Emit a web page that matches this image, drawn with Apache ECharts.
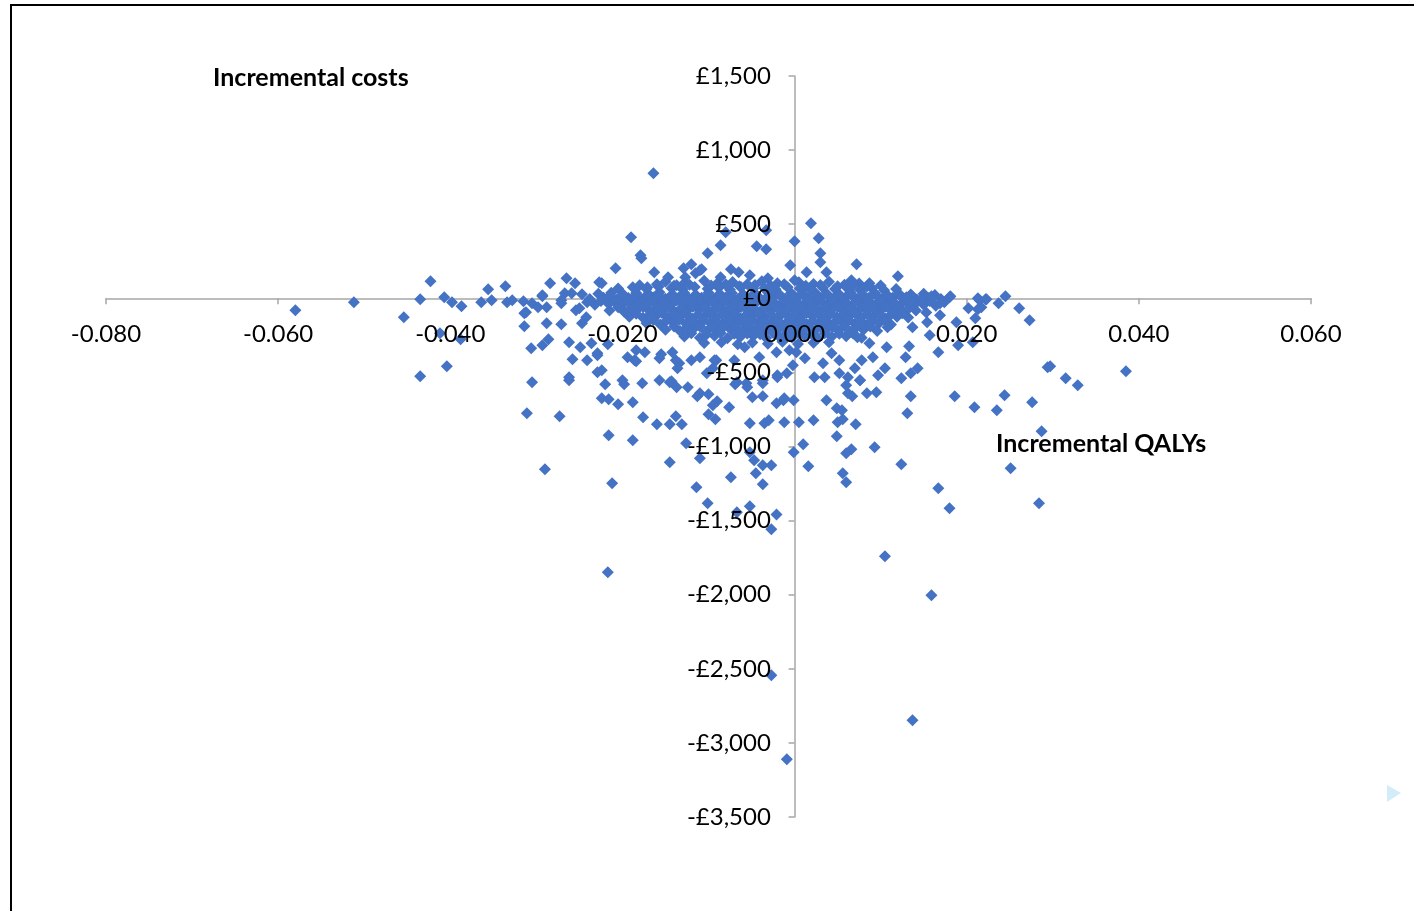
<!DOCTYPE html>
<html>
<head>
<meta charset="utf-8">
<title>Incremental costs vs incremental QALYs</title>
<script src="https://cdn.jsdelivr.net/npm/echarts@6/dist/echarts.min.js"></script>
<style>
  html, body { margin: 0; padding: 0; background: #ffffff; }
  #chart { width: 1414px; height: 911px; }
</style>
</head>
<body>
<div id="chart"></div>
<script>
// Axis ticks
const xTicks = [-0.08, -0.06, -0.04, -0.02, 0, 0.02, 0.04, 0.06];
const xStep = 0.02;
const yTicks = [-3500, -3000, -2500, -2000, -1500, -1000, -500, 0, 500, 1000, 1500];
const yStep = 500;

// Simulations above the x axis (incremental QALY, incremental cost in £)
const upperPoints = [
  [-0.0164,843],[-0.0190,412],[-0.0179,290],[-0.0178,270],[0.0019,506],[0.0028,405],[0.0000,385],
  [0.0030,304],[0.0030,243],[-0.0033,459],[-0.0044,351],[-0.0033,331],[-0.0086,358],[-0.0080,445],
  [-0.0101,304],[-0.0208,202],[-0.0163,175],[-0.0129,202],[-0.0120,229],[-0.0108,196],[-0.0147,142],
  [-0.0127,142],[-0.0115,169],[-0.0074,196],[-0.0086,142],[-0.0065,175],[-0.0052,155],[-0.0031,135],
  [-0.0005,223],[0.0000,121],[0.0014,175],[-0.0284,101],[-0.0265,135],[-0.0255,101],[-0.0224,101],
  [-0.0259,34],[-0.0247,27],[-0.0293,20],[-0.0171,74],[-0.0137,88],[0.0037,175],[0.0072,229],
  [0.0120,148],[0.0066,121],[0.0087,101],[-0.0227,108],[-0.0110,189],[-0.0267,34]
];

// Simulations to the right of the main cloud
const rightPoints = [
  [0.0245,13],[0.0261,-67],[0.0273,-148],[0.0237,-34],[0.0222,-7],[0.0213,0],[0.0202,-67],
  [0.0213,-74],[0.0217,-61],[0.0210,-135],[0.0181,13],[0.0174,-27],[0.0188,-162],[0.0190,-317],
  [0.0207,-297],[0.0167,-364],[0.0157,-250],[0.0133,-324],[0.0129,-398],[0.0143,-472],[0.0135,-506],
  [0.0124,-540],[0.0105,-472],[0.0294,-466],[0.0137,-196],[0.0154,-162],[0.0169,-115],
  [0.0135,-661],[0.0131,-776],[0.0186,-661],[0.0209,-735],[0.0235,-756],[0.0244,-655],[0.0276,-702],
  [0.0287,-897],[0.0251,-1147],[0.0284,-1383],[0.0385,-493],[0.0329,-587],[0.0315,-540],[0.0297,-459],
  [0.0130,7],[0.0136,-27],[0.0149,-13],[0.0159,13],[0.0169,-34],[0.0180,7],[0.0215,-13],[0.0223,-7]
];

// Simulations well below the x axis
const lowerPoints = [
  [-0.0001,-688],[-0.0013,-688],[-0.0012,-837],[0.0005,-837],[0.0022,-823],[0.0037,-688],[0.0049,-742],
  [0.0055,-756],[0.0050,-837],[0.0056,-816],[0.0071,-850],[0.0062,-641],[0.0067,-661],[0.0084,-641],
  [0.0095,-634],[0.0060,-587],[0.0076,-553],
  [0.0049,-931],[0.0010,-985],[-0.0001,-1039],[0.0016,-1134],[0.0060,-1046],[0.0066,-1019],[0.0056,-1181],
  [0.0060,-1242],[0.0093,-1005],[0.0124,-1120],[0.0167,-1282],[0.0180,-1417],[0.0105,-1741],[0.0159,-2004],
  [0.0137,-2848],[-0.0009,-3111],[-0.0027,-2544],[-0.0217,-1849],
  [-0.0305,-567],[-0.0262,-553],[-0.0220,-580],[-0.0198,-580],[-0.0177,-574],[-0.0145,-567],[-0.0137,-601],
  [-0.0224,-675],[-0.0216,-682],[-0.0205,-715],[-0.0188,-702],[-0.0113,-661],[-0.0100,-648],[-0.0090,-695],
  [-0.0095,-722],[-0.0076,-735],[-0.0069,-580],[-0.0055,-601],[-0.0037,-574],[-0.0049,-668],[-0.0037,-661],
  [-0.0021,-709],
  [-0.0311,-776],[-0.0273,-796],[-0.0176,-803],[-0.0160,-850],[-0.0145,-850],[-0.0138,-796],[-0.0131,-850],
  [-0.0100,-783],[-0.0092,-816],[-0.0052,-843],[-0.0035,-843],[-0.0030,-823],[-0.0216,-924],[-0.0188,-958],
  [-0.0126,-978],[-0.0110,-1080],[-0.0145,-1107],[-0.0052,-1039],[-0.0047,-1093],[-0.0037,-1127],
  [-0.0027,-1127],[-0.0045,-1181],[-0.0037,-1255],[-0.0074,-1208],[-0.0114,-1275],[-0.0101,-1383],
  [-0.0067,-1444],[-0.0052,-1404],[-0.0021,-1458],[-0.0027,-1559],[-0.0290,-1154],[-0.0212,-1248]
];

// Simulations on the left wing
const leftPoints = [
  [-0.0580,-81],[-0.0512,-27],[-0.0454,-128],[-0.0435,-7],[-0.0423,115],[-0.0407,7],[-0.0398,-27],
  [-0.0387,-54],[-0.0412,-236],[-0.0388,-277],[-0.0435,-526],[-0.0404,-459],[-0.0364,-27],[-0.0356,61],
  [-0.0352,-13],[-0.0336,81],[-0.0334,-27],[-0.0328,-13],[-0.0315,-20],[-0.0312,-94],[-0.0314,-189],
  [-0.0306,-337],[-0.0293,-317],[-0.0288,-169],[-0.0305,-34],[-0.0293,13],
  [-0.0286,-277],[-0.0271,-175],[-0.0262,-297],[-0.0249,-331],[-0.0258,-412],[-0.0241,-418],[-0.0262,-533],
  [-0.0229,-499],[-0.0236,-304],[-0.0229,-385],[-0.0217,-310],[-0.0194,-398],[-0.0184,-351],[-0.0184,-425],
  [-0.0155,-378],[-0.0138,-418],[-0.0136,-472],[-0.0143,-560],[-0.0120,-418],[-0.0110,-398],[-0.0093,-418],
  [-0.0095,-472],[-0.0067,-567],[-0.0037,-553],[-0.0020,-520],[-0.0009,-506],[-0.0012,-675],
  [-0.0314,-101],[-0.0298,-61],[-0.0288,-61],[-0.0271,-13],[-0.0254,-81],[-0.0247,-169],[-0.0242,-128],
  [-0.0250,-67],[-0.0241,-27],[-0.0271,-34]
];

// Scattered simulations just under the dense band
const midPoints = [
  [0.0087,-304],[0.0073,-263],[0.0108,-196],[0.0107,-331],[0.0091,-398],[0.0078,-418],[0.0070,-472],
  [0.0062,-533],[0.0052,-418],[0.0043,-371],[0.0033,-439],[0.0023,-533],[0.0035,-533],[0.0012,-405],
  [0.0002,-364],[0.0052,-506],[0.0076,-553],[0.0097,-520],
  [-0.0229,-371],[-0.0224,-486],[-0.0200,-553],[-0.0186,-418],[-0.0174,-364],[-0.0157,-405],[-0.0142,-364],
  [-0.0134,-439],[-0.0157,-553],[-0.0124,-601],[-0.0102,-506],[-0.0091,-418],[-0.0070,-418],[-0.0058,-331],
  [-0.0041,-398],[-0.0021,-364],[-0.0006,-351],[-0.0002,-452],[-0.0020,-533],[-0.0056,-574],[-0.0110,-641]
];

// Dense band of simulations around the origin
const corePoints = [
  [-0.0150,112],[-0.0128,104],[-0.0105,118],[-0.0090,100],[-0.0072,110],[-0.0055,95],[-0.0038,115],
  [-0.0020,102],[0.0005,108],[0.0022,96],[0.0040,112],[0.0058,92],[0.0075,100],
  [-0.0205,66],[-0.0188,74],[-0.0172,62],[-0.0158,78],[-0.0143,68],[-0.0130,60],[-0.0116,76],[-0.0101,64],
  [-0.0088,72],[-0.0075,58],[-0.0062,75],[-0.0048,66],[-0.0035,70],[-0.0022,61],[-0.0008,74],[0.0006,66],
  [0.0019,58],[0.0033,72],[0.0047,63],[0.0061,70],[0.0076,57],[0.0090,66],[0.0104,54],[0.0118,62],
  [-0.0228,30],[-0.0213,38],[-0.0199,26],[-0.0184,36],[-0.0170,30],[-0.0157,40],[-0.0142,28],[-0.0128,35],
  [-0.0115,24],[-0.0100,38],[-0.0087,30],[-0.0073,36],[-0.0060,26],[-0.0046,34],[-0.0031,40],[-0.0018,28],
  [-0.0004,36],[0.0010,30],[0.0024,38],[0.0038,26],[0.0051,33],[0.0065,40],[0.0079,28],[0.0093,35],
  [0.0107,24],[0.0121,32],[0.0135,26],[0.0150,30],[0.0163,22],
  [-0.0238,-4],[-0.0222,4],[-0.0207,-8],[-0.0193,2],[-0.0178,-6],[-0.0164,6],[-0.0150,-3],[-0.0135,4],
  [-0.0122,-7],[-0.0108,3],[-0.0094,-5],[-0.0080,6],[-0.0066,-4],[-0.0052,2],[-0.0039,-6],[-0.0025,5],
  [-0.0011,-3],[0.0003,4],[0.0017,-6],[0.0031,3],[0.0045,-5],[0.0059,5],[0.0072,-4],[0.0086,2],
  [0.0100,-7],[0.0114,4],[0.0128,-3],[0.0142,-8],[0.0156,2],[0.0170,-5],
  [-0.0232,-44],[-0.0216,-36],[-0.0201,-48],[-0.0187,-38],[-0.0172,-45],[-0.0158,-34],[-0.0144,-46],
  [-0.0129,-40],[-0.0116,-50],[-0.0102,-36],[-0.0088,-44],[-0.0074,-38],[-0.0060,-48],[-0.0046,-35],
  [-0.0032,-42],[-0.0018,-50],[-0.0004,-38],[0.0010,-46],[0.0024,-36],[0.0038,-44],[0.0052,-40],
  [0.0066,-50],[0.0080,-37],[0.0094,-45],[0.0108,-40],[0.0122,-48],[0.0136,-36],[0.0150,-44],[0.0164,-50],
  [-0.0215,-82],[-0.0198,-90],[-0.0183,-78],[-0.0168,-88],[-0.0153,-80],[-0.0139,-92],[-0.0125,-84],
  [-0.0111,-76],[-0.0097,-90],[-0.0083,-82],[-0.0069,-88],[-0.0055,-78],[-0.0041,-92],[-0.0027,-84],
  [-0.0013,-80],[0.0001,-90],[0.0015,-82],[0.0029,-88],[0.0043,-78],[0.0057,-86],[0.0071,-92],[0.0085,-80],
  [0.0099,-88],[0.0113,-84],[0.0127,-94],[0.0141,-82],[0.0153,-96],
  [-0.0192,-124],[-0.0176,-132],[-0.0161,-120],[-0.0147,-130],[-0.0133,-126],[-0.0119,-136],[-0.0105,-122],
  [-0.0091,-130],[-0.0077,-126],[-0.0063,-134],[-0.0049,-120],[-0.0035,-128],[-0.0021,-136],[-0.0007,-124],
  [0.0007,-130],[0.0021,-122],[0.0035,-134],[0.0049,-126],[0.0063,-120],[0.0077,-132],[0.0091,-126],
  [0.0105,-136],[0.0119,-124],[0.0132,-130],
  [-0.0172,-168],[-0.0156,-176],[-0.0141,-164],[-0.0126,-172],[-0.0112,-180],[-0.0098,-166],[-0.0084,-174],
  [-0.0070,-168],[-0.0056,-178],[-0.0042,-164],[-0.0028,-172],[-0.0014,-180],[0.0000,-166],[0.0014,-174],
  [0.0028,-168],[0.0042,-178],[0.0056,-164],[0.0070,-172],[0.0084,-180],[0.0098,-168],[0.0112,-176],
  [-0.0150,-212],[-0.0133,-220],[-0.0118,-208],[-0.0103,-224],[-0.0089,-214],[-0.0075,-206],[-0.0061,-222],
  [-0.0047,-212],[-0.0033,-218],[-0.0019,-208],[-0.0005,-226],[0.0009,-214],[0.0023,-220],[0.0037,-208],
  [0.0051,-218],[0.0065,-226],[0.0080,-212],[0.0096,-220],
  [-0.0128,-258],[-0.0110,-266],[-0.0093,-252],[-0.0078,-270],[-0.0063,-260],[-0.0048,-254],[-0.0033,-268],
  [-0.0018,-258],[-0.0003,-264],[0.0012,-252],[0.0027,-270],[0.0043,-260],[0.0060,-256],[0.0078,-266],
  [-0.0105,-302],[-0.0085,-296],[-0.0066,-310],[-0.0049,-298],[-0.0031,-306],[-0.0014,-294],[0.0004,-308],
  [0.0022,-300],[0.0040,-296]
];

// Further simulations packed between the rows of the dense band
const coreFillPoints = [
  [-0.0180,88],[-0.0160,94],[-0.0140,84],[-0.0122,92],[-0.0097,86],[-0.0080,95],[-0.0064,82],[-0.0046,90],
  [-0.0028,86],[-0.0012,94],[0.0013,84],[0.0030,90],[0.0050,82],[0.0068,88],[0.0084,80],[0.0100,86],
  [-0.0215,16],[-0.0200,20],[-0.0186,12],[-0.0171,22],[-0.0157,15],[-0.0143,19],[-0.0129,12],[-0.0115,21],
  [-0.0101,14],[-0.0087,18],[-0.0073,11],[-0.0059,20],[-0.0045,16],[-0.0031,13],[-0.0017,22],[-0.0003,15],
  [0.0011,19],[0.0025,12],[0.0039,21],[0.0053,15],[0.0067,18],[0.0081,11],[0.0095,20],[0.0109,14],
  [0.0123,18],[0.0137,12],[0.0151,17],
  [-0.0225,-18],[-0.0209,-24],[-0.0194,-16],[-0.0180,-22],[-0.0165,-19],[-0.0151,-26],[-0.0137,-15],
  [-0.0122,-22],[-0.0109,-18],[-0.0095,-25],[-0.0081,-16],[-0.0067,-21],[-0.0053,-24],[-0.0039,-17],
  [-0.0025,-22],[-0.0011,-19],[0.0003,-25],[0.0017,-16],[0.0031,-22],[0.0045,-18],[0.0059,-24],
  [0.0073,-15],[0.0087,-21],[0.0101,-18],[0.0115,-25],[0.0129,-17],[0.0143,-22],[0.0157,-19],
  [-0.0205,-60],[-0.0190,-66],[-0.0176,-58],[-0.0161,-64],[-0.0146,-61],[-0.0132,-68],[-0.0118,-57],
  [-0.0104,-63],[-0.0090,-60],[-0.0076,-67],[-0.0062,-58],[-0.0048,-64],[-0.0034,-61],[-0.0020,-66],
  [-0.0006,-57],[0.0008,-63],[0.0022,-60],[0.0036,-66],[0.0050,-58],[0.0064,-64],[0.0078,-61],
  [0.0092,-68],[0.0106,-57],[0.0120,-63],[0.0134,-60],
  [-0.0184,-104],[-0.0168,-110],[-0.0154,-100],[-0.0140,-107],[-0.0126,-103],[-0.0112,-110],[-0.0098,-99],
  [-0.0084,-106],[-0.0070,-104],[-0.0056,-111],[-0.0042,-100],[-0.0028,-106],[-0.0014,-103],[0.0000,-109],
  [0.0014,-100],[0.0028,-107],[0.0042,-104],[0.0056,-110],[0.0070,-101],[0.0084,-106],[0.0098,-103],
  [0.0112,-109],[0.0125,-101],
  [-0.0164,-146],[-0.0149,-152],[-0.0134,-144],[-0.0119,-150],[-0.0105,-147],[-0.0091,-154],[-0.0077,-143],
  [-0.0063,-149],[-0.0049,-146],[-0.0035,-152],[-0.0021,-144],[-0.0007,-150],[0.0007,-147],[0.0021,-153],
  [0.0035,-144],[0.0049,-150],[0.0063,-146],[0.0077,-152],[0.0091,-144],[0.0105,-150],
  [-0.0140,-190],[-0.0125,-196],[-0.0110,-188],[-0.0096,-194],[-0.0082,-191],[-0.0068,-197],[-0.0054,-187],
  [-0.0040,-193],[-0.0026,-190],[-0.0012,-196],[0.0002,-188],[0.0016,-194],[0.0030,-191],[0.0044,-197],
  [0.0058,-188],[0.0072,-194],[0.0088,-190],
  [-0.0120,-236],[-0.0102,-242],[-0.0086,-234],[-0.0070,-240],[-0.0055,-237],[-0.0040,-243],[-0.0025,-234],
  [-0.0010,-240],[0.0005,-236],[0.0020,-242],[0.0035,-235],[0.0052,-240],[0.0068,-237]
];

const simulations = [].concat(corePoints, coreFillPoints, midPoints, upperPoints, rightPoints, lowerPoints, leftPoints);

const FONT = 'Lato, "Open Sans", sans-serif';
const AXIS_GREY = '#A6A6A6';
const MARKER_BLUE = '#4472C4';

function formatQaly(v) { return v.toFixed(3); }
function formatPounds(v) {
  const abs = Math.round(Math.abs(v)).toString().replace(/\B(?=(\d{3})+(?!\d))/g, ',');
  return (v < 0 ? '-' : '') + '\u00A3' + abs;
}

const xRange = { min: xTicks[0], max: xTicks[xTicks.length - 1], interval: xStep };
const yRange = { min: yTicks[0], max: yTicks[yTicks.length - 1], interval: yStep };
const plotBox = { left: 106, right: 103, top: 76, bottom: 94, containLabel: false };

const chart = echarts.init(document.getElementById('chart'), null, { renderer: 'canvas' });

// Axis pair 0 draws the crossing lines and ticks beneath the markers;
// axis pair 1 draws only the tick labels, above the markers, shifted onto the crossing lines.
function buildOption(xLabelOffset, yLabelOffset) {
  return {
    backgroundColor: '#ffffff',
    animation: false,
    grid: plotBox,
    xAxis: [
      Object.assign({
        type: 'value', position: 'bottom', z: 0,
        axisLine: { show: true, onZero: true, lineStyle: { color: AXIS_GREY, width: 1.5 } },
        axisTick: { show: true, length: 6, lineStyle: { color: AXIS_GREY, width: 1.5 } },
        axisLabel: { show: false },
        splitLine: { show: false }
      }, xRange),
      Object.assign({
        type: 'value', position: 'bottom', z: 10, offset: xLabelOffset,
        axisLine: { show: false, onZero: false },
        axisTick: { show: false },
        axisLabel: { show: true, margin: 24, formatter: formatQaly, color: '#000', fontSize: 24, fontFamily: FONT },
        splitLine: { show: false }
      }, xRange)
    ],
    yAxis: [
      Object.assign({
        type: 'value', position: 'left', z: 0,
        axisLine: { show: true, onZero: true, lineStyle: { color: AXIS_GREY, width: 1.5 } },
        axisTick: { show: true, length: 6, lineStyle: { color: AXIS_GREY, width: 1.5 } },
        axisLabel: { show: false },
        splitLine: { show: false }
      }, yRange),
      Object.assign({
        type: 'value', position: 'left', z: 10, offset: yLabelOffset,
        axisLine: { show: false, onZero: false },
        axisTick: { show: false },
        axisLabel: { show: true, margin: 22, formatter: formatPounds, color: '#000', fontSize: 24, fontFamily: FONT },
        splitLine: { show: false }
      }, yRange)
    ],
    series: [{
      type: 'scatter',
      xAxisIndex: 0,
      yAxisIndex: 0,
      symbol: 'diamond',
      symbolSize: 12,
      itemStyle: { color: MARKER_BLUE, opacity: 1 },
      data: simulations,
      z: 2
    }],
    graphic: [
      {
        type: 'rect', silent: true, z: 100,
        shape: { x: 11, y: 5, width: 1440, height: 950 },
        style: { fill: 'none', stroke: '#000000', lineWidth: 2 }
      },
      {
        type: 'text', z: 100, x: 213, y: 78,
        style: { text: 'Incremental costs', font: 'bold 25px ' + FONT, fill: '#000', textVerticalAlign: 'middle' }
      },
      {
        type: 'text', z: 100, x: 996, y: 444,
        style: { text: 'Incremental QALYs', font: 'bold 25px ' + FONT, fill: '#000', textVerticalAlign: 'middle' }
      },
      {
        type: 'polygon', silent: true, z: 100,
        shape: { points: [[1387, 785], [1401, 793], [1387, 802]] },
        style: { fill: '#D3ECFA' }
      }
    ]
  };
}

chart.setOption(buildOption(0, 0));
// Locate the origin through the axis scales and move the label axes onto it.
const origin = chart.convertToPixel({ xAxisIndex: 0, yAxisIndex: 0 }, [0, 0]);
const bottomEdge = chart.convertToPixel({ yAxisIndex: 0 }, yRange.min);
const leftEdge = chart.convertToPixel({ xAxisIndex: 0 }, xRange.min);
chart.setOption(buildOption(origin[1] - bottomEdge, leftEdge - origin[0]));
</script>
</body>
</html>
